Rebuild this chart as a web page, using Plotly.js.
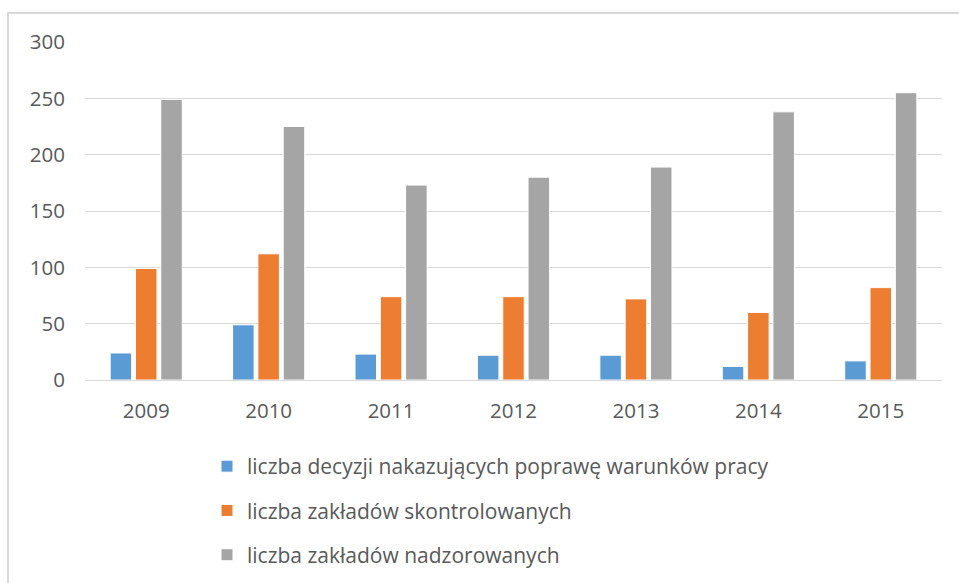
<!DOCTYPE html>
<html>
<head>
<meta charset="utf-8">
<script src="https://cdn.plot.ly/plotly-3.0.1.min.js"></script>
<style>html,body{margin:0;padding:0;background:#fff;}#chart{width:959px;height:583px;}</style>
</head>
<body>
<div id="chart"></div>
<script>
var years = ['2009','2010','2011','2012','2013','2014','2015'];
var decyzje = [24, 49, 23, 22, 22, 12, 17];
var skontrolowane = [99, 112, 74, 74, 72, 60, 82];
var nadzorowane = [249, 225, 173, 180, 189, 238, 255];
var names = ['liczba decyzji nakazujących poprawę warunków pracy','liczba zakładów skontrolowanych','liczba zakładów nadzorowanych'];
var colors = ['#5b9bd5','#ed7d31','#a5a5a5'];
var series = [decyzje, skontrolowane, nadzorowane];
var FONT = 'Open Sans, sans-serif';
var traces = series.map(function(v,i){
  return {type:'bar', x:years, y:v, name:names[i], legendgroup:'g'+i,
    marker:{color:colors[i], line:{color:'#ffffff', width:1}}, hoverinfo:'skip'};
});
var layout = {
  width:959, height:583,
  margin:{l:85, r:17, t:42, b:203, autoexpand:false},
  paper_bgcolor:'#fff', plot_bgcolor:'#fff',
  font:{family:FONT, size:21, color:'#595959'},
  barmode:'group', bargap:0.38, bargroupgap:0.15,
  xaxis:{type:'category', showgrid:false, zeroline:false, showline:false, ticks:'', ticklabelstandoff:16,
    tickfont:{family:FONT, size:20.5, color:'#595959'}},
  yaxis:{range:[0,300], dtick:50, tick0:0, showgrid:true, gridcolor:'#d9d9d9', gridwidth:1,
    zeroline:true, zerolinecolor:'#d9d9d9', zerolinewidth:1, showline:false, ticks:'',
    ticklabelstandoff:19, tickfont:{family:FONT, size:20.5, color:'#595959'}},
  showlegend:true,
  legend:{orientation:'v', x:(207-85)/857, xanchor:'left', y:(380-446)/338, yanchor:'top',
    tracegroupgap:14, font:{family:FONT, size:21, color:'#595959'}, bgcolor:'rgba(0,0,0,0)'},
  shapes:[{type:'rect', xref:'paper', yref:'paper', x0:(8-85)/857, x1:(965-85)/857, y0:(380-590)/338, y1:(380-13)/338,
    line:{color:'#d9d9d9', width:2}, fillcolor:'rgba(0,0,0,0)', layer:'below'}]
};
Plotly.newPlot('chart', traces, layout, {displayModeBar:false, staticPlot:true});
</script>
</body>
</html>
